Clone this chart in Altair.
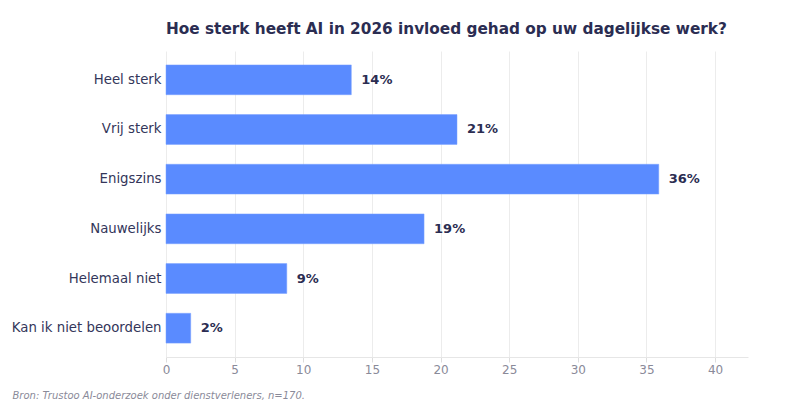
import altair as alt
import pandas as pd

categories = ["Heel sterk", "Vrij sterk", "Enigszins", "Nauwelijks", "Helemaal niet", "Kan ik niet beoordelen"]
values = [13.5, 21.2, 35.9, 18.8, 8.8, 1.8]
labels = ["14%", "21%", "36%", "19%", "9%", "2%"]

df = pd.DataFrame({"cat": categories, "val": values, "lab": labels})

NAVY = "#2b2d52"
FONT = "DejaVu Sans"

base = alt.Chart(df).encode(
    y=alt.Y("cat:N", sort=categories, title=None,
            scale=alt.Scale(paddingInner=0.4, paddingOuter=0.28),
            axis=alt.Axis(labelFontSize=13.3, labelColor="#33365a", labelFont=FONT,
                          ticks=False, domain=False, labelPadding=5)),
)

bars = base.mark_bar(color="#5a8bff", stroke="#7aa0ff", strokeWidth=0.5).encode(
    x=alt.X("val:Q", title="Bron: Trustoo AI-onderzoek onder dienstverleners, n=170.",
            scale=alt.Scale(domain=[0, 42.4], nice=False),
            axis=alt.Axis(values=[0, 5, 10, 15, 20, 25, 30, 35, 40], labelFontSize=12,
                          labelColor="#8a8a99", labelFont=FONT, tickColor="#dddddd",
                          labelFlush=False,
                          domainColor="#e6e6e6", gridColor="#ececec", tickSize=5,
                          titleFont=FONT, titleFontStyle="italic", titleFontWeight="normal",
                          titleFontSize=10, titleColor="#8a8a99", titleAnchor="start",
                          titleAlign="left", titleX=-154, titleY=33)),
)

text = base.mark_text(align="left", dx=10, fontWeight="bold", fontSize=13, color=NAVY, font=FONT).encode(
    x="val:Q", text="lab:N"
)

chart = (bars + text).properties(
    width=582, height=306,
    padding={"top": 13, "left": 3, "right": 5, "bottom": 5},
    title=alt.TitleParams("Hoe sterk heeft AI in 2026 invloed gehad op uw dagelijkse werk?",
                          font=FONT, fontSize=15.3, fontWeight="bold", color=NAVY,
                          anchor="start", frame="group", offset=14),
).configure(background="white").configure_view(strokeWidth=0)

chart.save("out.html", embed_options={"renderer": "svg", "actions": False})
